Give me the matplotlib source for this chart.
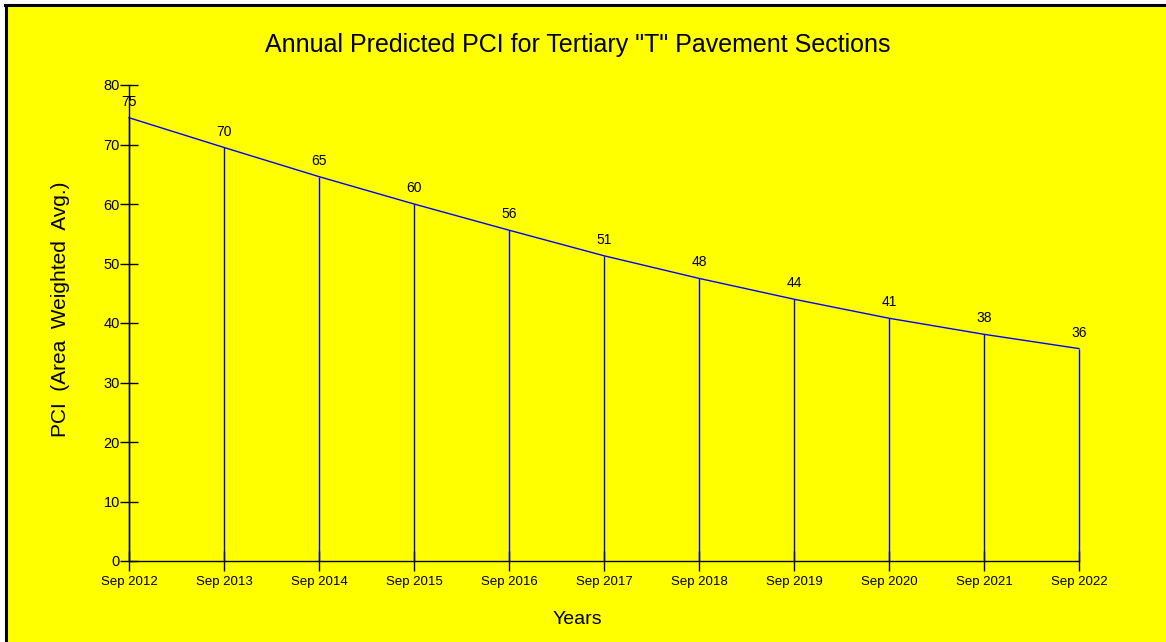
import matplotlib
matplotlib.use("Agg")
import matplotlib.pyplot as plt
from matplotlib import font_manager
from matplotlib.patches import Rectangle
from matplotlib.lines import Line2D

years = [2012, 2013, 2014, 2015, 2016, 2017, 2018, 2019, 2020, 2021, 2022]
tick_labels = ["Sep %d" % y for y in years]
pci = [74.5, 69.5, 64.6, 60.0, 55.6, 51.3, 47.5, 44.0, 40.8, 38.1, 35.7]
pci_labels = ["75", "70", "65", "60", "56", "51", "48", "44", "41", "38", "36"]

names = {f.name for f in font_manager.fontManager.ttflist}
narrow = "Liberation Sans Narrow" if "Liberation Sans Narrow" in names else "Liberation Sans"
regular = "Liberation Sans"

W, H = 1166, 642
fig = plt.figure(figsize=(W / 100, H / 100), dpi=100, facecolor="white")

# yellow panel with black top/left edge
fig.patches.append(Rectangle((7 / W, 0), 1, 1 - 6 / H, transform=fig.transFigure,
                             facecolor="#ffff00", edgecolor="none", zorder=-10))
fig.lines.append(Line2D([6 / W, 6 / W], [0, 1 - 5 / H], transform=fig.transFigure,
                        color="black", linewidth=2.2))
fig.lines.append(Line2D([5 / W, 1], [1 - 5 / H, 1 - 5 / H], transform=fig.transFigure,
                        color="black", linewidth=2.2))

ax = fig.add_axes([129 / W, 1 - 561 / H, (1079 - 129) / W, (561 - 85) / H])
ax.set_facecolor("none")

ax.plot(years, pci, color="#0000ff", linewidth=1.0, zorder=3, clip_on=False)
ax.vlines(years, 0, pci, color="#0000ff", linewidth=1.0, zorder=2, clip_on=False)

for x, v, lab in zip(years, pci, pci_labels):
    ax.annotate(lab, (x, v), xytext=(0, 11.5), textcoords="offset points",
                ha="center", va="center", fontsize=10, family=narrow)

ax.set_xlim(years[0], years[-1])
ax.set_ylim(0, 80)
ax.set_yticks(range(0, 81, 10))
ax.set_xticks(years)
ax.set_xticklabels(tick_labels, family=narrow, fontsize=9.5)
for t in ax.get_yticklabels():
    t.set_family(narrow)
    t.set_fontsize(10.5)

for s in ["top", "right"]:
    ax.spines[s].set_visible(False)
for s in ["left", "bottom"]:
    ax.spines[s].set_color("black")
    ax.spines[s].set_linewidth(1.0)

ax.tick_params(axis="y", direction="inout", length=13, width=1, pad=0, colors="black")
ax.tick_params(axis="x", direction="inout", length=14.4, width=1, pad=3.5, colors="black")

fig.text(578 / W, 1 - 45 / H, 'Annual Predicted PCI for Tertiary "T" Pavement Sections',
         ha="center", va="center", fontsize=18, family=narrow)
fig.text(60 / W, 1 - 309 / H, "PCI  (Area  Weighted  Avg.)", rotation=90,
         ha="center", va="center", fontsize=15, family=regular)
fig.text(577 / W, 1 - 620 / H, "Years", ha="center", va="center",
         fontsize=14, family=regular)

fig.savefig("out.png", dpi=100, facecolor="white")
